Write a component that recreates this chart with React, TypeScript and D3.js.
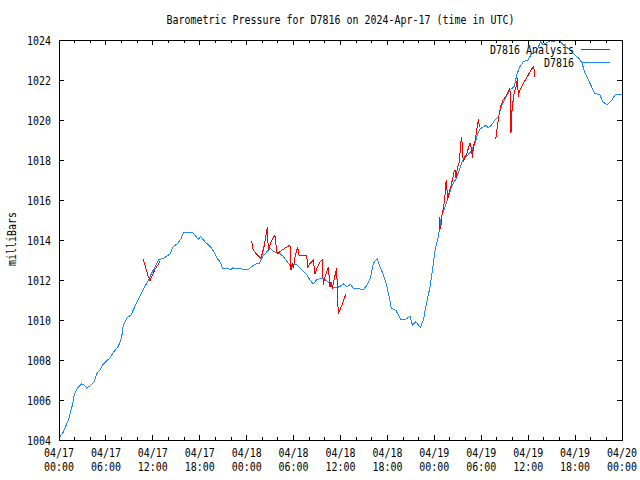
import React from 'react';
import * as d3 from 'd3';

const W = 640;
const H = 480;
const START = new Date(Date.UTC(2024, 3, 17, 0, 0));
const END = new Date(Date.UTC(2024, 3, 20, 0, 0));

const title = 'Barometric Pressure for D7816 on 2024-Apr-17 (time in UTC)';
const yLabel = 'milliBars';
const seriesNames = ['D7816 Analysis', 'D7816'];

// station observations: [hours since 04/17 00:00 UTC, mb]
const observed: [number, number][] = [
  [0.13, 1004.17], [0.55, 1004.4], [1.2, 1005.0], [1.75, 1005.8], [1.96, 1006.3],
  [2.35, 1006.6], [2.9, 1006.8], [3.2, 1006.75], [3.54, 1006.6], [3.96, 1006.7],
  [4.5, 1006.9], [4.8, 1007.3], [5.24, 1007.5], [5.67, 1007.8], [6.5, 1008.1],
  [7.0, 1008.4], [7.6, 1008.7], [8.0, 1009.1], [8.2, 1009.7], [8.7, 1010.1],
  [9.2, 1010.25], [9.5, 1010.5], [10.1, 1011.0], [10.45, 1011.25], [10.8, 1011.55],
  [11.3, 1011.9], [12.06, 1012.5], [12.6, 1012.9], [12.8, 1013.03], [13.3, 1013.07],
  [14.2, 1013.3], [14.6, 1013.67], [15.1, 1013.8], [15.56, 1014.03], [15.98, 1014.4],
  [17.0, 1014.4], [17.4, 1014.25], [17.8, 1014.03], [18.1, 1014.17], [18.7, 1013.9],
  [19.5, 1013.6], [19.8, 1013.4], [20.2, 1013.1], [20.6, 1012.9], [20.9, 1012.6],
  [21.6, 1012.6], [21.9, 1012.5], [22.2, 1012.6], [22.5, 1012.55], [23.06, 1012.6],
  [23.57, 1012.53], [24.2, 1012.5], [24.6, 1012.67], [25.2, 1012.8], [25.6, 1012.83],
  [26.05, 1013.17], [26.6, 1013.42], [27.0, 1013.58], [27.5, 1013.42], [27.8, 1013.38],
  [28.26, 1013.33], [28.7, 1013.17], [29.2, 1012.9], [29.5, 1012.75], [30.2, 1012.8],
  [30.6, 1012.7], [31.04, 1012.5], [31.7, 1012.25], [32.1, 1012.0], [32.5, 1011.8],
  [33.0, 1012.03], [33.6, 1012.08], [34.0, 1012.03], [34.4, 1011.9], [34.9, 1011.67],
  [35.4, 1011.6], [35.9, 1011.67], [36.4, 1011.8], [36.8, 1011.67], [37.3, 1011.78],
  [37.7, 1011.55], [38.2, 1011.58], [38.9, 1011.5], [39.4, 1011.75], [39.8, 1012.08],
  [40.2, 1012.83], [40.7, 1013.08], [41.05, 1012.67], [41.5, 1012.25], [41.9, 1011.75],
  [42.3, 1011.0], [42.5, 1010.58], [43.1, 1010.47], [43.7, 1010.03], [44.25, 1010.03],
  [44.9, 1010.17], [45.2, 1009.75], [45.65, 1009.92], [46.2, 1009.62], [46.6, 1010.0],
  [47.0, 1010.83], [47.45, 1011.67], [47.8, 1012.6], [48.1, 1013.5], [48.5, 1014.17],
  [48.9, 1015.17], [49.4, 1015.67], [49.8, 1016.17], [50.2, 1016.67], [50.8, 1017.08],
  [51.2, 1017.5], [51.5, 1017.87], [51.9, 1018.1], [52.3, 1018.25], [52.8, 1018.5],
  [53.2, 1018.83], [53.5, 1019.25], [53.8, 1019.53], [54.3, 1019.67], [54.6, 1019.75],
  [54.9, 1019.6], [55.3, 1019.75], [55.8, 1020.03], [56.2, 1020.17], [56.6, 1020.7],
  [57.2, 1021.17], [57.7, 1021.5], [58.2, 1021.67], [58.6, 1022.33], [58.95, 1022.67],
  [59.4, 1022.92], [60.0, 1023.0], [60.4, 1023.3], [61.05, 1023.42], [61.6, 1023.92],
  [61.9, 1023.75], [62.3, 1023.85], [62.8, 1023.97], [63.2, 1023.9], [63.6, 1024.0],
  [64.1, 1023.92], [64.5, 1023.75], [65.1, 1023.58], [65.8, 1023.33], [66.6, 1023.03],
  [66.9, 1022.83], [67.2, 1022.42], [67.6, 1022.08], [68.1, 1021.67], [68.5, 1021.33],
  [69.2, 1021.25], [69.5, 1020.92], [70.1, 1020.75], [70.7, 1021.0], [71.1, 1021.25],
  [72.0, 1021.3],
];

// analysis runs (gaps between them)
const analysis1: [number, number][] = [
  [10.78, 1013.03], [11.42, 1012.17], [11.64, 1011.97], [12.28, 1012.54], [12.92, 1012.92],
];

const analysis2: [number, number][] = [
  [24.64, 1013.94], [24.85, 1013.49], [25.28, 1013.29], [25.83, 1013.07], [26.26, 1013.74],
  [26.44, 1014.15], [26.64, 1014.65], [26.77, 1013.49], [27.2, 1013.99], [27.62, 1014.24],
  [27.84, 1013.4], [27.97, 1013.32], [28.48, 1013.49], [29.54, 1013.74], [29.67, 1012.49],
  [29.84, 1012.82], [29.97, 1012.6], [30.18, 1013.15], [30.53, 1013.65], [30.69, 1013.24],
  [31.68, 1013.24], [31.81, 1012.65], [32.1, 1012.82], [32.52, 1012.99], [32.74, 1012.32],
  [32.96, 1012.57], [33.38, 1012.9], [33.67, 1012.99], [33.8, 1011.74], [33.93, 1012.07],
  [34.11, 1012.24], [34.44, 1012.65], [34.66, 1011.65], [34.79, 1011.9], [34.95, 1011.57],
  [35.39, 1012.4], [35.52, 1012.57], [35.59, 1011.49], [35.72, 1010.32], [35.94, 1010.5],
  [36.7, 1011.3],
];

const analysis3: [number, number][] = [
  [48.6, 1015.13], [48.7, 1014.5], [48.85, 1014.75], [49.0, 1015.33], [49.15, 1015.58],
  [49.33, 1016.08], [49.5, 1016.92], [49.58, 1017.0], [49.66, 1016.0], [49.8, 1016.17],
  [49.92, 1016.42], [50.1, 1016.67], [50.36, 1017.08], [50.52, 1017.42], [50.65, 1017.5],
  [50.78, 1017.08], [50.94, 1017.58], [51.2, 1017.92], [51.37, 1018.83], [51.5, 1019.17],
  [51.63, 1018.33], [51.7, 1017.92], [51.92, 1018.17], [52.1, 1018.25], [52.35, 1018.58],
  [52.56, 1018.83], [52.78, 1018.5], [52.86, 1018.08], [52.99, 1018.67], [53.2, 1018.92],
  [53.42, 1019.5], [53.63, 1020.03], [53.75, 1019.67],
];

const analysis4: [number, number][] = [
  [55.85, 1019.05], [56.2, 1020.08], [56.53, 1020.75], [56.8, 1021.0], [57.25, 1021.25],
  [57.67, 1021.58], [57.8, 1019.33], [57.87, 1019.9], [57.93, 1020.45], [58.0, 1020.75],
  [58.24, 1021.42], [58.45, 1021.67], [58.65, 1022.08], [58.73, 1021.17], [58.86, 1021.42],
  [59.15, 1021.67], [59.5, 1021.92], [59.9, 1022.17], [60.35, 1022.5], [60.7, 1022.67],
  [60.87, 1022.17],
];

const analysisRuns = [analysis1, analysis2, analysis3, analysis4];

const FONT = 'DejaVu Sans Mono';
const CHAR = 6;

const Mono: React.FC<{ x: number; y: number; anchor?: string; text: string; transform?: string }> = ({
  x, y, anchor = 'start', text, transform,
}) => (
  <text
    x={x}
    y={y}
    textAnchor={anchor}
    fontFamily={FONT}
    fontSize={11.5}
    textLength={text.length * CHAR}
    lengthAdjust="spacingAndGlyphs"
    transform={transform}
    fill="#000"
  >
    {text}
  </text>
);

const toDate = (h: number) => new Date(START.getTime() + h * 3600 * 1000);

export default function App() {
  const left = 59;
  const right = 622;
  const top = 40;
  const bottom = 440;

  const x = d3.scaleUtc().domain([START, END]).range([left, right]);
  const y = d3.scaleLinear().domain([1004, 1024]).range([bottom, top]);

  const line = d3
    .line<[number, number]>()
    .x(d => x(toDate(d[0])))
    .y(d => y(d[1]));

  const majorTicks = d3.utcHour.every(6)!.range(START, new Date(END.getTime() + 1));
  const minorTicks = d3.utcHour
    .every(2)!
    .range(START, END)
    .filter(d => d.getUTCHours() % 6 !== 0);
  const yTicks = y.ticks(10);

  const fmtDay = d3.utcFormat('%m/%d');
  const fmtTime = d3.utcFormat('%H:%M');

  const blue = '#1e8cff';
  const red = '#ff0000';

  return (
    <svg
      width={W}
      height={H}
      style={{ position: 'absolute', left: 0, top: 0, background: '#fff' }}
    >
      <rect x={0} y={0} width={W} height={H} fill="#fff" />

      <Mono x={(left + right) / 2} y={24} anchor="middle" text={title} />

      {/* data */}
      <g fill="none" strokeWidth={1} shapeRendering="crispEdges">
        <path d={line(observed) || ''} stroke={blue} />
        {analysisRuns.map((run, i) => (
          <path key={i} d={line(run) || ''} stroke={red} />
        ))}
      </g>

      {/* frame + ticks */}
      <g stroke="#000" strokeWidth={1} shapeRendering="crispEdges" fill="none">
        <rect x={left} y={top} width={right - left} height={bottom - top} />
        {yTicks.map(t => (
          <g key={`y${t}`}>
            <line x1={left} x2={left + 5} y1={y(t)} y2={y(t)} />
            <line x1={right - 5} x2={right} y1={y(t)} y2={y(t)} />
          </g>
        ))}
        {majorTicks.map(t => (
          <g key={`x${t.getTime()}`}>
            <line x1={x(t)} x2={x(t)} y1={bottom} y2={bottom - 5} />
            <line x1={x(t)} x2={x(t)} y1={top} y2={top + 5} />
          </g>
        ))}
        {minorTicks.map(t => (
          <g key={`m${t.getTime()}`}>
            <line x1={x(t)} x2={x(t)} y1={bottom} y2={bottom - 3} />
            <line x1={x(t)} x2={x(t)} y1={top} y2={top + 3} />
          </g>
        ))}
      </g>

      {/* tick labels */}
      {yTicks.map(t => (
        <Mono key={`yl${t}`} x={51} y={y(t) + 4.5} anchor="end" text={String(t)} />
      ))}
      {majorTicks.map(t => (
        <g key={`xl${t.getTime()}`}>
          <Mono x={x(t)} y={457} anchor="middle" text={fmtDay(t)} />
          <Mono x={x(t)} y={471} anchor="middle" text={fmtTime(t)} />
        </g>
      ))}

      <Mono x={0} y={0} anchor="middle" text={yLabel} transform="translate(16,239) rotate(-90)" />

      {/* legend */}
      <Mono x={574} y={54} anchor="end" text={seriesNames[0]} />
      <line x1={581} x2={610} y1={49.5} y2={49.5} stroke={red} strokeWidth={1} shapeRendering="crispEdges" />
      <Mono x={574} y={67} anchor="end" text={seriesNames[1]} />
      <line x1={581} x2={610} y1={62.5} y2={62.5} stroke={blue} strokeWidth={1} shapeRendering="crispEdges" />
    </svg>
  );
}
